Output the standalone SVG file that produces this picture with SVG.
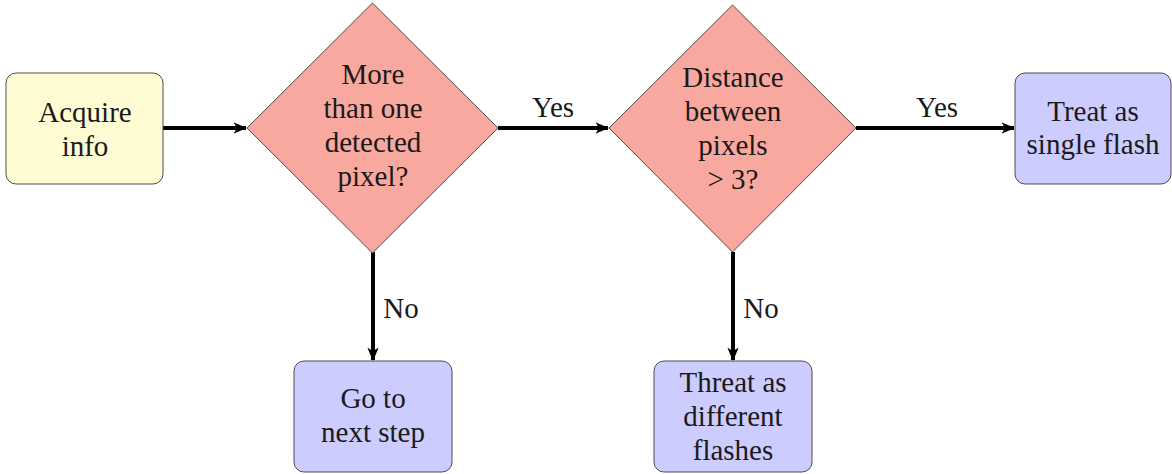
<svg xmlns="http://www.w3.org/2000/svg" width="1172" height="474" viewBox="0 0 1172 474">
  <style>
    text { font-family: "Liberation Serif", serif; font-size: 29px; fill: #1a1a1a; text-anchor: middle; }
    .box { stroke: #4d4d4d; stroke-width: 1; }
    .start { fill: #fffcd4; }
    .action { fill: #ccccff; }
    .decision { fill: #f9a8a0; stroke: #4d4d4d; stroke-width: 1; }
    .edge { stroke: #000; stroke-width: 4; fill: none; marker-end: url(#stealth); }
  </style>
  <defs>
    <!-- stealth-style arrow tip -->
    <marker id="stealth" viewBox="0 0 12 10" refX="11" refY="5" markerWidth="3.4" markerHeight="2.8" orient="auto" markerUnits="strokeWidth">
      <path d="M0,0 L12,5 L0,10 L3,5 Z" fill="#000"/>
    </marker>
  </defs>

  <g id="connectors">
    <line class="edge" x1="163" y1="128" x2="246" y2="128"/>
    <line class="edge" x1="498" y1="128" x2="608" y2="128"/>
    <line class="edge" x1="856" y1="128" x2="1014" y2="128"/>
    <line class="edge" x1="373" y1="252" x2="373" y2="360"/>
    <line class="edge" x1="733" y1="252" x2="733" y2="360"/>
    <text x="553" y="117">Yes</text>
    <text x="937" y="117">Yes</text>
    <text x="401" y="318">No</text>
    <text x="761" y="318">No</text>
  </g>

  <g id="acquire">
    <rect class="box start" x="6" y="73" width="157" height="111" rx="10"/>
    <text x="85" y="122">Acquire</text>
    <text x="85" y="156">info</text>
  </g>

  <g id="multiple-pixels">
    <polygon class="decision" points="372.5,3 498,128 372.5,253 247,128"/>
    <text x="373" y="84">More</text>
    <text x="373" y="118">than one</text>
    <text x="373" y="152">detected</text>
    <text x="373" y="186">pixel?</text>
  </g>

  <g id="pixel-distance">
    <polygon class="decision" points="732.5,5 856,128 732.5,252 609,128"/>
    <text x="733" y="87">Distance</text>
    <text x="733" y="121">between</text>
    <text x="733" y="155">pixels</text>
    <text x="733" y="189">&gt; 3?</text>
  </g>

  <g id="single-flash">
    <rect class="box action" x="1015" y="73" width="156" height="111" rx="10"/>
    <text x="1093" y="121">Treat as</text>
    <text x="1093" y="154">single flash</text>
  </g>

  <g id="next-step">
    <rect class="box action" x="294" y="361" width="158" height="111" rx="10"/>
    <text x="373" y="408">Go to</text>
    <text x="373" y="442">next step</text>
  </g>

  <g id="different-flashes">
    <rect class="box action" x="654" y="361" width="158" height="111" rx="10"/>
    <text x="733" y="392">Threat as</text>
    <text x="733" y="426">different</text>
    <text x="733" y="460">flashes</text>
  </g>
</svg>
